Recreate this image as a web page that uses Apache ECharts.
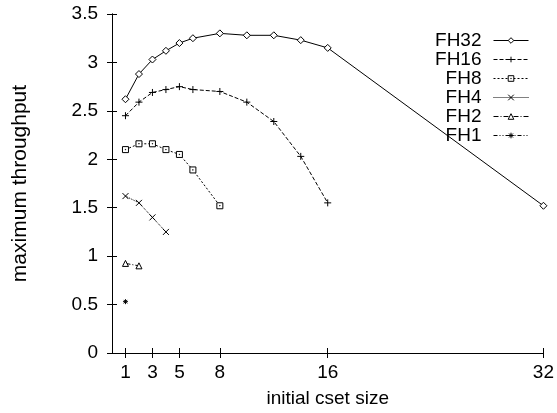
<!DOCTYPE html>
<html>
<head>
<meta charset="utf-8">
<script src="https://cdn.jsdelivr.net/npm/echarts@6/dist/echarts.min.js"></script>
<style>
html,body{margin:0;padding:0;background:#fff;}
#chart{width:557px;height:413px;}
</style>
</head>
<body>
<div id="chart"></div>
<script>
// ---- data ----
var seriesNames = ['FH32', 'FH16', 'FH8', 'FH4', 'FH2', 'FH1'];
var xFH32 = [1, 2, 3, 4, 5, 6, 8, 10, 12, 14, 16, 32];
var yFH32 = [2.62, 2.88, 3.03, 3.12, 3.20, 3.25, 3.30, 3.28, 3.28, 3.23, 3.15, 1.52];
var xFH16 = [1, 2, 3, 4, 5, 6, 8, 10, 12, 14, 16];
var yFH16 = [2.45, 2.59, 2.69, 2.72, 2.75, 2.72, 2.70, 2.59, 2.39, 2.03, 1.55];
var xFH8 = [1, 2, 3, 4, 5, 6, 8];
var yFH8 = [2.10, 2.16, 2.16, 2.10, 2.05, 1.89, 1.52];
var xFH4 = [1, 2, 3, 4];
var yFH4 = [1.62, 1.55, 1.40, 1.25];
var xFH2 = [1, 2];
var yFH2 = [0.925, 0.90];
var xFH1 = [1];
var yFH1 = [0.53];
var xTicks = [1, 3, 5, 8, 16, 32];
var yTicks = [0, 0.5, 1, 1.5, 2, 2.5, 3, 3.5];
var xTitle = 'initial cset size';
var yTitle = 'maximum throughput';

function pairs(xs, ys) { return xs.map(function (x, i) { return [x, ys[i]]; }); }

var FONT = 'Liberation Sans, Arial, Helvetica, sans-serif';
var INK = '#000';

var styles = [
  { symbol: 'diamond', size: 7, fill: '#fff', dash: 'solid' },
  { symbol: 'path://M0,5L10,5M5,0L5,10', size: 7, fill: INK, dash: [4, 2] },
  { symbol: 'path://M0,0L10,0L10,10L0,10Z M4.6,4.6L5.4,4.6L5.4,5.4L4.6,5.4Z', size: 6, fill: '#fff', dash: [2, 2] },
  { symbol: 'path://M0,0L10,10M10,0L0,10', size: 6, fill: INK, dash: [1, 1] },
  { symbol: 'triangle', size: 6, fill: '#fff', dash: [5, 2, 1, 2] },
  { symbol: 'path://M0,5L10,5M5,0L5,10M1.5,1.5L8.5,8.5M8.5,1.5L1.5,8.5', size: 5, fill: INK, dash: [4, 2, 1, 2, 1, 2] }
];
var dataSets = [pairs(xFH32, yFH32), pairs(xFH16, yFH16), pairs(xFH8, yFH8),
                pairs(xFH4, yFH4), pairs(xFH2, yFH2), pairs(xFH1, yFH1)];

var series = seriesNames.map(function (name, i) {
  var s = styles[i];
  return {
    name: name,
    type: 'line',
    data: dataSets[i],
    symbol: s.symbol,
    symbolSize: s.size,
    showAllSymbol: true,
    itemStyle: { color: s.fill, borderColor: INK, borderWidth: 1 },
    lineStyle: { color: INK, width: 1, type: s.dash },
    emphasis: { disabled: true }
  };
});

var axisLineStyle = { show: true, lineStyle: { color: INK, width: 1 } };

var option = {
  animation: false,
  backgroundColor: '#fff',
  textStyle: { fontFamily: FONT },
  grid: { left: 112, right: 12, top: 14, bottom: 52, containLabel: false },
  legend: {
    orient: 'vertical',
    align: 'right',
    right: 28,
    top: 31,
    padding: 0,
    itemGap: 0,
    itemWidth: 35,
    itemHeight: 7,
    selectedMode: false,
    data: seriesNames,
    lineStyle: { width: 1 },
    itemStyle: { borderWidth: 1 },
    textStyle: { fontFamily: FONT, fontSize: 19, color: INK, lineHeight: 19, padding: [0, 7, 0, 0] }
  },
  xAxis: [{
    type: 'value', min: 0, max: 32, position: 'bottom',
    name: xTitle, nameLocation: 'middle', nameGap: 36,
    nameTextStyle: { fontFamily: FONT, fontSize: 19, color: INK },
    axisLine: axisLineStyle,
    axisTick: { show: true, inside: true, length: 5, customValues: xTicks, lineStyle: { color: INK } },
    axisLabel: { show: true, customValues: xTicks, margin: 10, fontFamily: FONT, fontSize: 19, color: INK },
    splitLine: { show: false }
  }, {
    type: 'value', min: 0, max: 32, position: 'top',
    axisLine: axisLineStyle,
    axisTick: { show: true, inside: true, length: 5, customValues: xTicks, lineStyle: { color: INK } },
    axisLabel: { show: false },
    splitLine: { show: false }
  }],
  yAxis: [{
    type: 'value', min: yTicks[0], max: yTicks[yTicks.length - 1], interval: yTicks[1] - yTicks[0], position: 'left',
    name: yTitle, nameLocation: 'middle', nameGap: 81, nameRotate: 90,
    nameTextStyle: { fontFamily: FONT, fontSize: 21, color: INK },
    axisLine: axisLineStyle,
    axisTick: { show: true, inside: true, length: 5, lineStyle: { color: INK } },
    axisLabel: { show: true, margin: 14, fontFamily: FONT, fontSize: 19, color: INK },
    splitLine: { show: false }
  }, {
    type: 'value', min: yTicks[0], max: yTicks[yTicks.length - 1], interval: yTicks[1] - yTicks[0], position: 'right',
    axisLine: axisLineStyle,
    axisTick: { show: true, inside: true, length: 5, lineStyle: { color: INK } },
    axisLabel: { show: false },
    splitLine: { show: false }
  }],
  series: series
};

var chart = echarts.init(document.getElementById('chart'), null, { renderer: 'canvas' });
chart.setOption(option);
</script>
</body>
</html>
